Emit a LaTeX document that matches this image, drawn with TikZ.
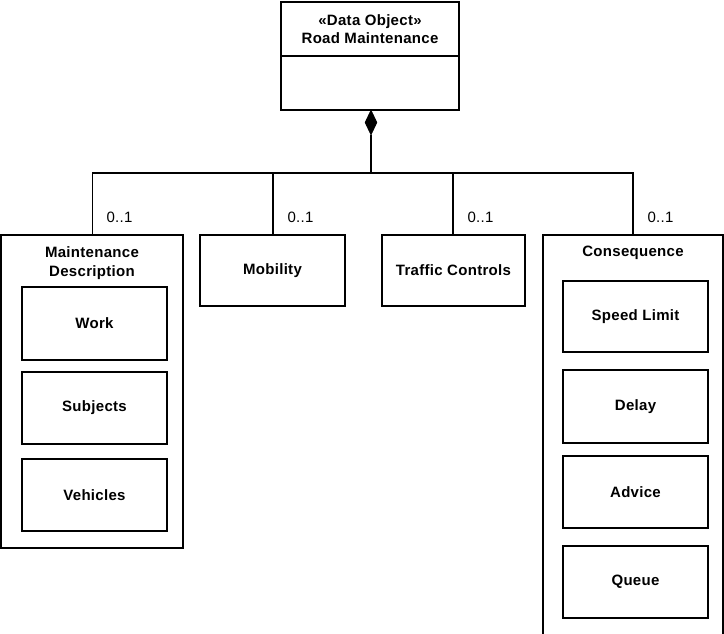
\documentclass[tikz,border=0pt]{standalone}
\usepackage{fontspec}
\setmainfont{Liberation Sans}
\newfontfamily\lblfont{Liberation Sans}[LetterSpace=2]
\usetikzlibrary{shapes.geometric}
\begin{document}
\begin{tikzpicture}[x=1pt,y=-1pt,
  line width=1.1pt,
  box/.style={draw=black, rectangle, inner sep=0pt},
  title/.style={font=\lblfont\bfseries\fontsize{15}{18}\selectfont, align=center, inner sep=0pt},
  mult/.style={font=\lblfont\fontsize{15}{18}\selectfont, anchor=west, inner sep=0pt},
  conn/.style={draw=black, line width=1.1pt}]
\useasboundingbox (0,0) rectangle (724,634);
\clip (0,0) rectangle (724,634);

% Data object: Road Maintenance
\node[box, minimum width=178, minimum height=108] (ro) at (370,56) {};
\draw (ro.west) -- (ro.east);
\node[title] (rotitle) at (370,29.5) {«Data Object»\\[0pt]Road Maintenance};

% composition diamond and bus
\node[diamond, draw=black, fill=black, minimum width=12, minimum height=25, inner sep=0pt, line width=0.6pt] (dia) at (371,122.5) {};
\coordinate (bus) at (371,173);

% child classes
\node[box, minimum width=182, minimum height=313] (md) at (92,391.5) {};
\node[title] (mdtitle) at (92,263) {Maintenance\\[1pt]Description};
\node[box, minimum width=145, minimum height=71] (mob) at (272.5,270.5) {};
\node[title] at (mob.center) {Mobility};
\node[box, minimum width=143, minimum height=71] (tc) at (453.5,270.5) {};
\node[title] at (tc.center) {Traffic Controls};
\node[box, minimum width=180, minimum height=425] (cq) at (633,447.5) {};
\node[title] (cqtitle) at (633,253) {Consequence};

% parts of Maintenance Description
\node[box, minimum width=145, minimum height=73] (work) at (94.5,323.5) {};
\node[title] at (work.center) {Work};
\node[box, minimum width=145, minimum height=72] (subj) at (94.5,408) {};
\node[title] at (subj.center) {Subjects};
\node[box, minimum width=145, minimum height=72] (veh) at (94.5,495) {};
\node[title] at (veh.center) {Vehicles};

% parts of Consequence
\node[box, minimum width=145, minimum height=71] (spd) at (635.5,316.5) {};
\node[title] at (spd.center) {Speed Limit};
\node[box, minimum width=145, minimum height=73] (dly) at (635.5,406.5) {};
\node[title] at (dly.center) {Delay};
\node[box, minimum width=145, minimum height=72] (adv) at (635.5,492) {};
\node[title] at (adv.center) {Advice};
\node[box, minimum width=145, minimum height=72] (que) at (635.5,582) {};
\node[title] at (que.center) {Queue};

% connectors
\coordinate (mdtop) at (92.5,235);
\coordinate (mobtop) at (273,235);
\coordinate (tctop) at (453,235);
\coordinate (cqtop) at (633,235);
\draw[conn] (dia.south) -- (bus);
\draw[conn] (mdtop) -- (mdtop |- bus) -- (cqtop |- bus) -- (cqtop);
\draw[conn] (mobtop) -- (mobtop |- bus);
\draw[conn] (tctop) -- (tctop |- bus);

% multiplicities
\node[mult] (m1) at (106,217) {0..1};
\node[mult] (m2) at (287,217) {0..1};
\node[mult] (m3) at (467,217) {0..1};
\node[mult] (m4) at (647,217) {0..1};
\end{tikzpicture}
\end{document}
